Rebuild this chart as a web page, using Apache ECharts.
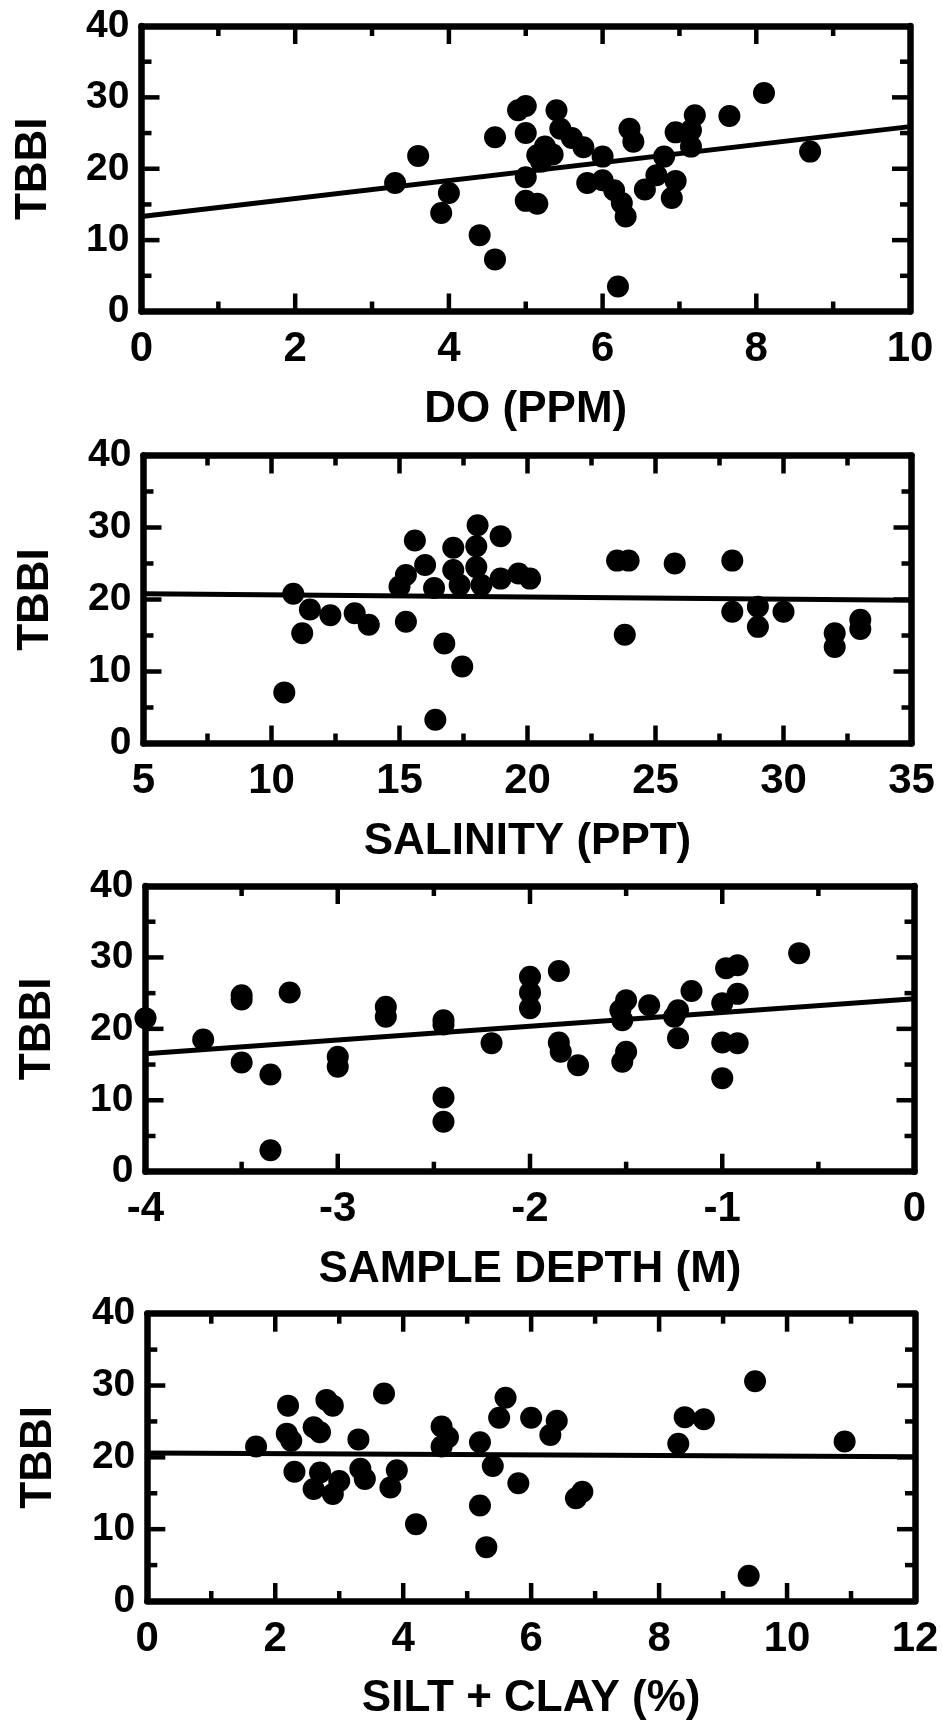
<!DOCTYPE html>
<html>
<head>
<meta charset="utf-8">
<script src="https://cdn.jsdelivr.net/npm/echarts@6/dist/echarts.min.js"></script>
<style>
html,body{margin:0;padding:0;background:#fff;}
#c{width:942px;height:1725px;}
</style>
</head>
<body>
<div id="c"></div>
<script>
// ---- Data ----
const yName = 'TBBI';
const yTicks = [0, 10, 20, 30, 40];
const yMajorTicks = [10, 20, 30];
const yMinorTicks = [5, 15, 25, 35];

const doX   = [3.3,3.6,3.9,4.0,4.4,4.6,4.6,4.9,5.0,5.0,5.0,5.0,5.15,5.15,5.25,5.2,5.4,5.45,5.6,5.75,5.35,6.0,5.8,6.0,6.15,6.25,6.3,6.2,6.35,6.4,6.8,6.7,6.95,6.55,6.9,6.95,7.2,7.15,7.15,7.65,8.1,8.7];
const doY   = [18.0,21.8,13.8,16.6,10.7,7.3,24.4,28.2,28.8,25.0,18.8,15.5,15.1,21.9,23.1,21.0,28.2,25.6,24.3,23.0,22.0,21.7,18.0,18.4,17.0,15.2,13.3,3.5,25.6,23.8,21.7,19.1,18.3,17.1,15.9,25.1,27.5,25.4,23.1,27.4,30.6,22.4];
const doFitX = [0, 10];
const doFitY = [13.3, 25.9];
const doMajor = [2, 4, 6, 8];
const doMinor = [1, 3, 5, 7, 9];

const salX  = [10.5,10.85,11.2,11.5,12.3,13.25,13.8,15.0,15.25,15.25,15.6,16.0,16.35,16.4,16.75,17.1,17.1,17.35,17.45,18.05,18.0,18.0,18.2,18.95,18.95,19.65,20.1,23.5,23.95,23.8,25.75,28.0,28.0,29.0,29.0,30.0,32.0,32.0,33.0,33.0];
const salY  = [7.1,20.8,15.3,18.6,17.8,18.1,16.5,21.8,23.4,16.9,28.2,24.8,21.6,3.3,13.9,27.2,24.1,22.0,10.7,30.3,27.4,24.5,22.0,28.8,22.9,23.6,22.9,25.4,25.4,15.1,25.0,25.4,18.3,19.0,16.2,18.3,15.3,13.4,17.2,15.9];
const salFitX = [5, 35];
const salFitY = [20.8, 19.9];
const salMajor = [10, 15, 20, 25, 30];
const salMinor = [7.5, 12.5, 17.5, 22.5, 27.5, 32.5];

const depX  = [-4.0,-3.7,-3.5,-3.5,-3.5,-3.35,-3.35,-3.25,-3.0,-3.0,-2.75,-2.75,-2.45,-2.45,-2.45,-2.45,-2.2,-2.0,-2.0,-2.0,-1.85,-1.85,-1.84,-1.75,-1.5,-1.53,-1.52,-1.5,-1.52,-1.38,-1.23,-1.25,-1.16,-1.23,-0.98,-0.92,-0.92,-1.0,-1.0,-0.92,-1.0,-0.6];
const depY  = [21.5,18.5,24.7,24.1,15.3,13.6,3.0,25.1,16.1,14.7,23.1,21.7,21.2,20.6,10.4,7.0,18.0,27.3,25.1,22.9,28.1,18.1,16.8,14.9,24.0,22.6,21.2,16.8,15.4,23.3,22.6,21.7,25.3,18.7,28.5,28.9,24.9,23.6,18.1,18.0,13.1,30.6];
const depFitX = [-4, 0];
const depFitY = [16.5, 24.2];
const depMajor = [-3, -2, -1];
const depMinor = [-3.5, -2.5, -1.5, -0.5];

const siltX = [1.7,2.2,2.18,2.25,2.3,2.6,2.7,2.8,2.9,3.7,3.3,2.7,2.6,3.0,2.9,3.33,3.4,3.9,3.8,4.2,4.6,4.7,4.6,5.2,5.4,5.2,5.3,5.6,5.5,5.8,6.0,6.4,6.3,6.8,6.7,8.4,8.7,8.3,9.5,9.4,10.9];
const siltY = [21.5,27.2,23.3,22.3,18.0,24.2,23.5,28.0,27.2,28.9,22.5,17.9,15.6,16.7,14.9,18.4,17.0,18.2,15.8,10.7,24.3,22.8,21.5,22.1,18.8,13.3,7.5,28.3,25.5,16.4,25.5,25.1,23.1,15.2,14.3,25.6,25.3,21.9,30.6,3.5,22.2];
const siltFitX = [0, 12];
const siltFitY = [20.6, 20.1];
const siltMajor = [2, 4, 6, 8, 10];
const siltMinor = [1, 3, 5, 7, 9, 11];

const panels = [
  {name: 'DO (PPM)',         min: 0,  max: 10, interval: 2, xs: doX,   ys: doY,   fx: doFitX,   fy: doFitY,   maj: doMajor,   mnr: doMinor},
  {name: 'SALINITY (PPT)',   min: 5,  max: 35, interval: 5, xs: salX,  ys: salY,  fx: salFitX,  fy: salFitY,  maj: salMajor,  mnr: salMinor},
  {name: 'SAMPLE DEPTH (M)', min: -4, max: 0,  interval: 1, xs: depX,  ys: depY,  fx: depFitX,  fy: depFitY,  maj: depMajor,  mnr: depMinor},
  {name: 'SILT + CLAY (%)',  min: 0,  max: 12, interval: 2, xs: siltX, ys: siltY, fx: siltFitX, fy: siltFitY, maj: siltMajor, mnr: siltMinor}
];

// ---- Layout ----
const gridBoxes = [
  {left: 141.5, right: 32,   top: 26,     height: 285.5},
  {left: 143.5, right: 30.5, top: 455.5,  height: 288},
  {left: 145.5, right: 27.5, top: 886,    height: 285.7},
  {left: 147.3, right: 27,   top: 1313.7, height: 287.3}
];

const FONT = '"Liberation Sans", Arial, Helvetica, sans-serif';
const MAJOR_LEN = 18, MINOR_LEN = 10, TICK_W = 4.5;

function ax(extra) {
  return Object.assign({
    type: 'value',
    axisLine: {show: true, onZero: false, lineStyle: {color: '#000', width: 6.5}},
    axisTick: {show: false},
    minorTick: {show: false},
    splitLine: {show: false}
  }, extra);
}

// tick marks as rectangles anchored on the frame, placed through the axis scales
function tickItems(p, yMin, yMax) {
  const items = [];
  const addX = (vals, len) => vals.forEach(v => {
    items.push({value: [v, yMin], symbolSize: [TICK_W, len], symbolOffset: [0, -len / 2]});
    items.push({value: [v, yMax], symbolSize: [TICK_W, len], symbolOffset: [0, len / 2]});
  });
  const addY = (vals, len) => vals.forEach(v => {
    items.push({value: [p.min, v], symbolSize: [len, TICK_W], symbolOffset: [len / 2, 0]});
    items.push({value: [p.max, v], symbolSize: [len, TICK_W], symbolOffset: [-len / 2, 0]});
  });
  addX(p.maj, MAJOR_LEN);
  addX(p.mnr, MINOR_LEN);
  addY(yMajorTicks, MAJOR_LEN);
  addY(yMinorTicks, MINOR_LEN);
  return items;
}

const grids = [], xAxes = [], yAxes = [], series = [];
panels.forEach((p, i) => {
  grids.push(Object.assign({}, gridBoxes[i]));
  xAxes.push(ax({
    gridIndex: i, position: 'bottom',
    min: p.min, max: p.max, interval: p.interval,
    name: p.name, nameLocation: 'middle', nameGap: 76,
    nameTextStyle: {fontFamily: FONT, fontWeight: 'bold', fontSize: 44, color: '#000'},
    axisLabel: {show: true, margin: 17,
      fontFamily: FONT, fontWeight: 'bold', fontSize: 42, color: '#000'}
  }));
  xAxes.push(ax({
    gridIndex: i, position: 'top',
    min: p.min, max: p.max, interval: p.interval,
    axisLabel: {show: false}
  }));
  yAxes.push(ax({
    gridIndex: i, position: 'left',
    min: yTicks[0], max: yTicks[yTicks.length - 1], interval: yTicks[1] - yTicks[0],
    name: yName, nameLocation: 'middle', nameGap: 86,
    nameTextStyle: {fontFamily: FONT, fontWeight: 'bold', fontSize: 44, color: '#000'},
    axisLabel: {show: true, margin: 12,
      fontFamily: FONT, fontWeight: 'bold', fontSize: 39, color: '#000'}
  }));
  yAxes.push(ax({
    gridIndex: i, position: 'right',
    min: yTicks[0], max: yTicks[yTicks.length - 1], interval: yTicks[1] - yTicks[0],
    axisLabel: {show: false}
  }));

  const yMin = yTicks[0], yMax = yTicks[yTicks.length - 1];
  series.push({
    type: 'scatter', xAxisIndex: 2 * i, yAxisIndex: 2 * i,
    data: tickItems(p, yMin, yMax),
    symbol: 'rect',
    itemStyle: {color: '#000', opacity: 1}, clip: false, silent: true, z: 4
  });
  series.push({
    type: 'scatter', xAxisIndex: 2 * i, yAxisIndex: 2 * i,
    data: p.xs.map((x, k) => [x, p.ys[k]]),
    symbol: 'circle', symbolSize: 22,
    itemStyle: {color: '#000', opacity: 1}, clip: false, silent: true
  });
  series.push({
    type: 'line', xAxisIndex: 2 * i, yAxisIndex: 2 * i,
    data: p.fx.map((x, k) => [x, p.fy[k]]),
    showSymbol: false, symbol: 'none',
    lineStyle: {color: '#000', width: 5}, silent: true
  });
});

const chart = echarts.init(document.getElementById('c'), null, {renderer: 'canvas'});
chart.setOption({
  backgroundColor: '#fff',
  animation: false,
  grid: grids,
  xAxis: xAxes,
  yAxis: yAxes,
  series: series
});
</script>
</body>
</html>
